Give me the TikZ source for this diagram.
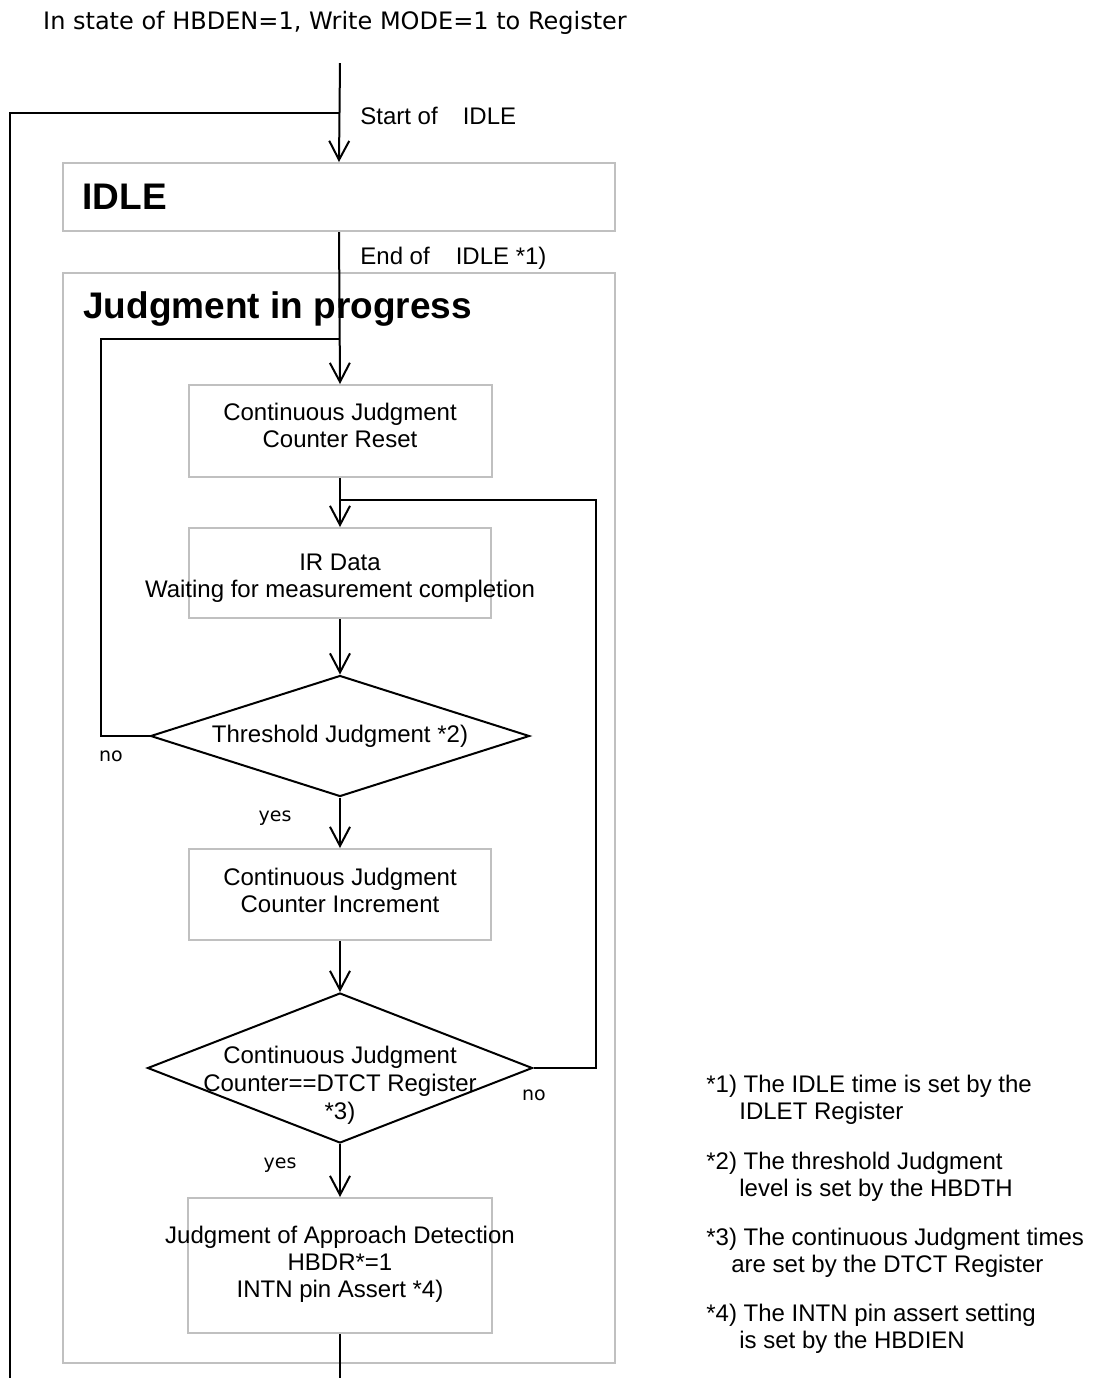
\documentclass[tikz,border=0pt]{standalone}
\usepackage{fontspec}
\setmainfont{Liberation Sans}
\newfontfamily\gothic{DejaVu Sans}
\usetikzlibrary{arrows.meta,shapes.geometric}
\definecolor{framegray}{RGB}{192,192,192}
\tikzset{
	flow/.style={line width=1pt,-{Straight Barb[length=9.5pt,width=10pt]}},
	wire/.style={line width=1pt},
	frame/.style={draw=framegray,line width=1pt,rectangle,inner sep=0pt},
	boxtext/.style={inner sep=0pt,align=center,font=\fontsize{12}{13.5}\selectfont},
	decision/.style={draw,line width=1pt,diamond,inner sep=0pt},
	headline/.style={anchor=west,inner sep=0pt,font=\fontsize{18.5}{20}\bfseries},
	sidetext/.style={anchor=west,inner sep=0pt,font=\fontsize{12}{13.5}\selectfont},
	branch/.style={inner sep=0pt,font=\gothic\fontsize{9.5}{11}\selectfont},
	footnote/.style={anchor=west,inner sep=0pt,align=left,font=\fontsize{12}{13.5}\selectfont}
}

\begin{document}
\begin{tikzpicture}[x=0.5pt,y=-0.5pt]
					\useasboundingbox (0,0) rectangle (1101,1378);
					\node[inner sep=0pt,font=\gothic\fontsize{12}{14}\selectfont] (title) at (335,23) {In state of HBDEN=1, Write MODE=1 to Register};
					\node[frame,minimum width=276pt,minimum height=34pt] (idle) at (339,197) {};
					\node[headline] (idletxt) at ([xshift=10pt]idle.west) {IDLE};
					\node[frame,minimum width=276pt,minimum height=545pt] (judge) at (339,818) {};
					\node[headline] (judgetxt) at (83,309) {Judgment in progress};
					\node[frame,minimum width=151.5pt,minimum height=46pt] (reset) at (340,431) {};
					\node[boxtext] (resettxt) at ([yshift=3pt]reset.center) {Continuous Judgment\\Counter Reset};
					\node[frame,minimum width=151pt,minimum height=45pt] (irdata) at (340,573) {};
					\node[boxtext] (irdatatxt) at ([yshift=-2.75pt]irdata.center) {IR Data\\Waiting for measurement completion};
					\node[decision,minimum width=189.5pt,minimum height=60.5pt] (thresh) at (340,736) {};
					\node[boxtext] (threshtxt) at (thresh.center) {Threshold Judgment *2)};
					\node[frame,minimum width=151pt,minimum height=45.5pt] (incr) at (340,894.5) {};
					\node[boxtext] (incrtxt) at ([yshift=2pt]incr.center) {Continuous Judgment\\Counter Increment};
					\node[decision,minimum width=192.5pt,minimum height=75pt] (match) at (340,1068) {};
					\node[boxtext,font=\fontsize{12}{14}\selectfont] (matchtxt) at ([yshift=-8.5pt]match.center) {Continuous Judgment\\Counter==DTCT Register\\*3)};
					\node[frame,minimum width=152pt,minimum height=67.5pt] (detect) at (340,1265.5) {};
					\node[boxtext] (detecttxt) at ([yshift=0.5pt]detect.center) {Judgment of Approach Detection\\HBDR*=1\\INTN pin Assert *4)};
					\coordinate (top) at (340,63);
					\coordinate (start) at (340,113);
					\coordinate (rail) at (10,1378);
					\coordinate (rejoin) at (340,339);
					\coordinate (retry) at (340,500);
					\coordinate (exit) at (340,1378);
					\draw[flow] (top) -- (idle.north);
					\draw[wire] (start) -| (rail);
					\draw[flow] (idle.south) -- (reset.north);
					\draw[flow] (reset.south) -- (irdata.north);
					\draw[flow] (irdata.south) -- (thresh.north);
					\draw[flow] (thresh.south) -- (incr.north);
					\draw[flow] (incr.south) -- (match.north);
					\draw[flow] (match.south) -- (detect.north);
					\draw[wire] (detect.south) -- (exit);
					\draw[wire] (thresh.west) -- ++(-49,0) |- (rejoin);
					\draw[wire] (match.east) -- ++(62,0) |- (retry);
					\node[sidetext] (startlbl) at (360,116) {Start of\hspace{12.5pt}IDLE};
					\node[sidetext] (endlbl) at (360,258) {End of\hspace{13pt}IDLE *1)};
					\node[branch] (no1) at (111,756) {no};
					\node[branch] (yes1) at (275,818) {yes};
					\node[branch] (no2) at (534,1095) {no};
					\node[branch] (yes2) at (280,1165) {yes};
					\node[footnote] (note1) at (706,1099.5) {*1) The IDLE time is set by the\\\hspace*{16.5pt}IDLET Register};
					\node[footnote] (note2) at (706,1177) {*2) The threshold Judgment\\\hspace*{16.5pt}level is set by the HBDTH};
					\node[footnote] (note3) at (706,1253) {*3) The continuous Judgment times\\\hspace*{12.5pt}are set by the DTCT Register};
					\node[footnote] (note4) at (706,1329) {*4) The INTN pin assert setting\\\hspace*{16.5pt}is set by the HBDIEN};
				\end{tikzpicture}
\end{document}
